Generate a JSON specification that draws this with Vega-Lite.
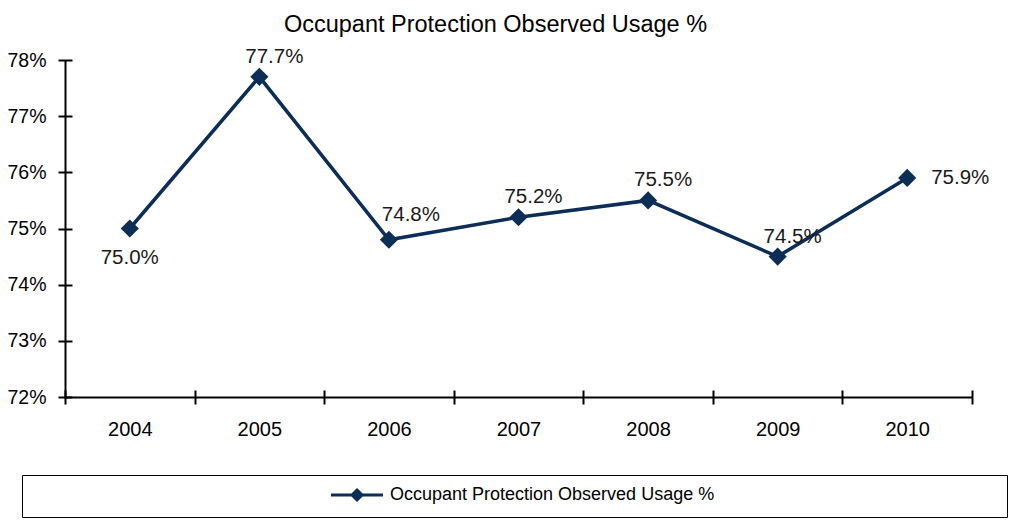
{
  "$schema": "https://vega.github.io/schema/vega-lite/v6.json",
  "width": 907,
  "height": 337,
  "autosize": {"type": "none"},
  "padding": {"left": 65, "top": 60, "right": 39, "bottom": 128},
  "background": "white",
  "config": {"font": "Liberation Sans", "view": {"stroke": null}},
  "title": {"text": "Occupant Protection Observed Usage %", "fontSize": 23.5, "fontWeight": "normal", "font": "Liberation Sans", "color": "#000", "anchor": "middle", "dx": -23, "offset": 10},
  "data": {"values": [
    {"year": "2004", "usage": 0.750, "series": "Occupant Protection Observed Usage %"},
    {"year": "2005", "usage": 0.777, "series": "Occupant Protection Observed Usage %"},
    {"year": "2006", "usage": 0.748, "series": "Occupant Protection Observed Usage %"},
    {"year": "2007", "usage": 0.752, "series": "Occupant Protection Observed Usage %"},
    {"year": "2008", "usage": 0.755, "series": "Occupant Protection Observed Usage %"},
    {"year": "2009", "usage": 0.745, "series": "Occupant Protection Observed Usage %"},
    {"year": "2010", "usage": 0.759, "series": "Occupant Protection Observed Usage %"}
  ]},
  "resolve": {"axis": {"x": "independent", "y": "independent"}},
  "layer": [
    {
      "mark": {"type": "line", "strokeWidth": 3.5},
      "encoding": {
        "x": {"field": "year", "type": "ordinal", "scale": {"type": "band", "paddingInner": 0, "paddingOuter": 0},
          "axis": {"orient": "bottom", "labelAngle": 0, "tickBand": "extent", "domainColor": "#000", "domainWidth": 2, "tickColor": "#000", "tickWidth": 2, "tickSize": 7, "labelFontSize": 20, "labelColor": "#000", "labelPadding": 15, "title": null, "grid": false}},
        "y": {"field": "usage", "type": "quantitative", "scale": {"domain": [0.72, 0.78], "zero": false, "nice": false},
          "axis": {"orient": "left", "values": [0.72, 0.73, 0.74, 0.75, 0.76, 0.77, 0.78], "format": ".0%", "domainColor": "#000", "domainWidth": 2, "tickColor": "#000", "tickWidth": 2, "tickSize": 7, "labelFontSize": 19.5, "labelColor": "#000", "labelPadding": 12, "title": null, "grid": false}},
        "color": {"field": "series", "type": "nominal", "scale": {"range": ["#0c2d55"]},
          "legend": {"orient": "none", "legendX": -43, "legendY": 415, "padding": 11, "strokeColor": "#000",
            "labelFontSize": 18, "labelColor": "#000", "labelLimit": 600, "labelOffset": 24,
            "symbolType": "M-5.2,0H5.2M0,-1L1,0L0,1L-1,0Z", "symbolSize": 100, "symbolOffset": 315,
            "title": "\u00a0", "titleOrient": "right", "titlePadding": 282, "titleFontSize": 10,
            "encode": {"symbols": {"update": {"fill": {"value": "#0c2d55"}, "stroke": {"value": "#0c2d55"}, "strokeWidth": {"value": 3}, "opacity": {"value": 1}}}}}}
      }
    },
    {
      "mark": {"type": "point", "shape": "diamond", "filled": true, "size": 330, "color": "#0c2d55", "opacity": 1},
      "encoding": {
        "x": {"field": "year", "type": "ordinal", "axis": null},
        "y": {"field": "usage", "type": "quantitative", "axis": null}
      }
    },
    {
      "mark": {"type": "point", "opacity": 0},
      "encoding": {
        "x": {"field": "year", "type": "ordinal", "axis": {"orient": "bottom", "tickBand": "extent", "labels": false, "domain": false, "tickColor": "#000", "tickWidth": 2, "tickSize": -7, "title": null, "grid": false}},
        "y": {"field": "usage", "type": "quantitative", "axis": {"orient": "left", "values": [0.72, 0.73, 0.74, 0.75, 0.76, 0.77, 0.78], "labels": false, "domain": false, "tickColor": "#000", "tickWidth": 2, "tickSize": -7, "title": null, "grid": false}}
      }
    },
    {
      "transform": [{"filter": {"field": "year", "oneOf": ["2004"]}}],
      "mark": {"type": "text", "fontSize": 20.5, "color": "#1a1a1a", "baseline": "middle", "align": "center", "dx": 0, "dy": 29},
      "encoding": {
        "x": {"field": "year", "type": "ordinal", "axis": null},
        "y": {"field": "usage", "type": "quantitative", "axis": null},
        "text": {"field": "usage", "type": "quantitative", "format": ".1%"}
      }
    },
    {
      "transform": [{"filter": {"field": "year", "oneOf": ["2005", "2007", "2008", "2009"]}}],
      "mark": {"type": "text", "fontSize": 20.5, "color": "#1a1a1a", "baseline": "middle", "align": "center", "dx": 15, "dy": -20},
      "encoding": {
        "x": {"field": "year", "type": "ordinal", "axis": null},
        "y": {"field": "usage", "type": "quantitative", "axis": null},
        "text": {"field": "usage", "type": "quantitative", "format": ".1%"}
      }
    },
    {
      "transform": [{"filter": {"field": "year", "oneOf": ["2006"]}}],
      "mark": {"type": "text", "fontSize": 20.5, "color": "#1a1a1a", "baseline": "middle", "align": "center", "dx": 22, "dy": -25},
      "encoding": {
        "x": {"field": "year", "type": "ordinal", "axis": null},
        "y": {"field": "usage", "type": "quantitative", "axis": null},
        "text": {"field": "usage", "type": "quantitative", "format": ".1%"}
      }
    },
    {
      "transform": [{"filter": {"field": "year", "oneOf": ["2010"]}}],
      "mark": {"type": "text", "fontSize": 20.5, "color": "#1a1a1a", "baseline": "middle", "align": "center", "dx": 53, "dy": 0},
      "encoding": {
        "x": {"field": "year", "type": "ordinal", "axis": null},
        "y": {"field": "usage", "type": "quantitative", "axis": null},
        "text": {"field": "usage", "type": "quantitative", "format": ".1%"}
      }
    }
  ]
}
